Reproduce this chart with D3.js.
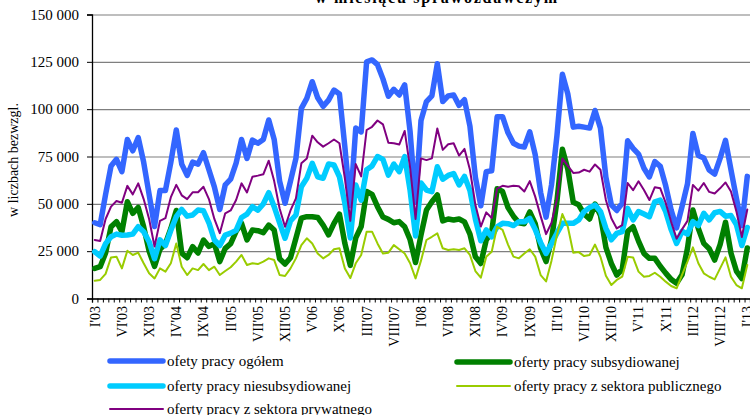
<!DOCTYPE html>
<html><head><meta charset="utf-8">
<script src="https://cdn.jsdelivr.net/npm/d3@7/dist/d3.min.js"></script>
<style>
html,body{margin:0;padding:0;background:#fff;overflow:hidden}
svg{display:block;font-family:"Liberation Serif","Times New Roman",serif}
</style></head><body>
<svg id="chart" width="750" height="415"></svg>
<script>
// ---------- data ----------
const romans = ["I","II","III","IV","V","VI","VII","VIII","IX","X","XI","XII"];
const years = ["03","04","05","06","07","08","09","10","11","12","13"];
const categories = [];
years.forEach(y => romans.forEach(r => categories.push(r + "'" + y)));
categories.length = 121; // I'03 ... I'13

const tickLabels = ["I'03","VI'03","XI'03","IV'04","IX'04","II'05","VII'05","XII'05","V'06","X'06",
  "III'07","VIII'07","I'08","VI'08","XI'08","IV'09","IX'09","II'10","VII'10","XII'10",
  "V'11","X'11","III'12","VIII'12","I'13"];

const yTicks = [0,25000,50000,75000,100000,125000,150000];

const ogolem = [40000,39000,55000,70000,73500,67000,84000,78000,85000,72000,55000,38000,
 57000,57000,72000,89000,71000,65000,72000,71000,77000,68000,59000,47000,
 60000,63000,71500,84000,74000,83700,82000,84000,94300,84000,62000,50300,
 62000,74000,100400,105700,114500,106000,101500,104800,110100,108000,80000,49000,
 90000,88000,125000,126000,123500,116000,106800,110500,107500,112800,88000,51000,
 94000,104000,107000,124000,104000,107000,107500,102000,105000,91000,64000,49000,
 67000,67500,96000,96000,87500,82000,80500,80000,88000,76000,56000,43000,
 60000,86000,118500,108000,90500,91000,90500,90000,99300,90000,64000,49500,
 46500,50300,83300,79300,76300,68800,64200,72300,69800,59500,46700,37300,
 48500,60500,87200,75500,74200,67800,65700,74000,83500,68000,53000,38500,
 64500];

const subsydiowane = [15900,16800,24000,37900,40600,35300,51100,45000,48100,37900,25000,17000,
 26000,29000,37000,46500,24000,21500,27400,24000,30900,27500,29000,19500,
 26500,29000,35500,39700,30900,36200,35800,34800,38800,36200,21000,18200,
 21500,31800,42400,43200,43200,42800,38800,33600,39700,44600,29100,17500,
 32000,38000,56500,55000,48500,43000,41800,40000,40600,37900,31000,19000,
 33500,46700,51100,54700,41000,42000,41500,42000,40500,34000,22000,18500,
 30900,35000,58000,56500,48000,43500,40000,39500,45700,39500,26500,19500,
 31000,51500,78800,68300,50800,49500,44600,42000,49900,44000,27000,18500,
 12400,15400,35500,37900,30300,23800,21200,21200,17000,13400,10100,8100,
 12500,26500,46700,37000,29100,26300,20300,28500,40300,24000,14500,10500,
 26700];

const niesubsydiowane = [24700,22400,29000,32600,34000,33400,33500,34000,37900,35300,30000,21000,
 31000,28000,36000,43200,47000,43500,44100,46700,46300,40000,30900,28000,
 33500,34500,36000,42800,44600,48500,46700,49900,55900,48500,40000,31800,
 41000,44100,59000,63500,71400,64300,63500,71000,70500,64300,50300,32000,
 60000,52000,68000,70000,75000,73500,65200,71000,67000,74900,57000,33000,
 61000,57300,56400,69600,63000,65000,66000,60000,64500,57000,42000,30500,
 36200,32600,37900,39700,39500,38500,40600,40500,42300,36500,29500,23800,
 29000,34500,39700,39700,39700,41500,45900,48000,49400,46000,37000,31000,
 34400,35300,47600,41500,45900,44600,43200,51100,52000,45900,36400,29100,
 35500,34000,40600,38500,45000,41500,45300,46000,43500,43800,39000,28000,
 37500];

const publiczne = [9400,9800,13000,21700,22100,15900,25200,23000,24200,18600,13300,10600,
 15900,14200,18600,29100,16800,12400,15900,15000,18200,15000,16800,12400,
 14500,16500,19500,23000,17700,18600,18200,19500,21200,20300,12400,11900,
 15900,21200,28200,31800,29100,23800,21200,23000,26000,26500,15900,10800,
 18600,23000,35300,35300,29100,23800,24200,28200,26000,23800,18600,10600,
 20000,30900,32600,34400,26500,25600,26000,25600,26500,23000,14500,11000,
 22100,24700,37900,36200,28500,22100,21200,23800,26000,22100,12400,9000,
 20000,33500,44600,37900,24200,24500,22400,23000,28500,22000,12000,7100,
 9800,11500,22100,21700,14200,11500,11900,13600,11500,8900,6600,5400,
 12500,19500,27000,18600,13300,11500,10100,15900,21700,11500,7100,5400,
 17700];

const prywatne = [30900,30400,42000,48500,51500,50600,59500,55000,60800,52500,42000,27500,
 41000,42400,53500,60000,54500,52500,56100,56100,59000,52500,42000,34500,
 45000,46500,52000,60800,56000,64300,64900,65600,72800,62000,47500,37900,
 46500,52900,71400,74000,86000,82500,80200,82000,84000,82000,63500,41000,
 71000,64500,89000,90700,94000,92000,82300,82000,81300,88500,69000,42000,
 74000,73100,74000,89800,78500,81500,82000,75500,79000,68000,49500,38000,
 45500,42500,58000,59500,59000,59500,59300,56500,62000,53800,43500,34000,
 40000,52500,74000,70000,66300,66500,68000,67000,70800,68000,52000,42400,
 37000,38800,61000,57200,61900,57300,52000,58800,58200,50500,40500,31600,
 36500,41000,60000,57000,61000,56300,55500,58200,61300,56500,46000,32500,
 47000];

const seriesNames = ["ofety pracy ogółem","oferty pracy subsydiowanej","oferty pracy niesubsydiowanej",
  "oferty pracy z sektora publicznego","oferty pracy z sektora prywatnego"];
const seriesValues = [ogolem, subsydiowane, niesubsydiowane, publiczne, prywatne];
const seriesColors = ["#3366FF","#008000","#00CCFF","#99CC00","#800080"];
const seriesWidths = [5.5,5.5,5.5,2,2];
const legendPos = [[110,361],[457,362],[110,386],[457,386],[110,409]];

const titleText = "w  miesiącu  sprawozdawczym";
const yTitle = "w liczbach bezwzgl.";

// ---------- drawing ----------
const svg = d3.select("#chart");
const L = 92, R = 750, T = 14.5, B = 298.5;

const x = d3.scaleBand().domain(d3.range(categories.length)).range([L, R]).paddingInner(0).paddingOuter(0);
const cx = i => x(i) + x.bandwidth() / 2;
const y = d3.scaleLinear().domain([0, 150000]).range([B, T]);

// title (clipped at top, as in the reference)
svg.append("text").attr("x", 436).attr("y", 3).attr("text-anchor", "middle")
  .attr("font-weight", "bold").attr("font-size", 16).attr("fill", "#000")
  .attr("textLength", 242).attr("lengthAdjust", "spacing").text(titleText);

// gridlines
svg.append("g").attr("transform", `translate(${L},0)`)
  .call(d3.axisLeft(y).tickValues(yTicks).tickSize(-(R - L)).tickFormat(""))
  .call(g => g.select(".domain").remove())
  .call(g => g.selectAll("line").attr("stroke", "#7f7f7f").attr("stroke-width", 1.2));

// y axis
const fmt = v => d3.format(",")(v).replace(/,/g, " ");
svg.append("g").attr("transform", `translate(${L},0)`)
  .call(d3.axisLeft(y).tickValues(yTicks).tickSize(5).tickPadding(8).tickFormat(fmt))
  .call(g => g.select(".domain").attr("stroke", "#000").attr("stroke-width", 1.3))
  .call(g => g.selectAll("line").attr("stroke", "#000"))
  .call(g => g.selectAll("text").attr("font-size", 15).attr("font-family", "Liberation Serif").attr("fill", "#000"));

svg.append("text").attr("transform", "translate(18,160) rotate(-90)")
  .attr("text-anchor", "middle").attr("font-size", 14).attr("fill", "#000").text(yTitle);

// x axis: minor ticks at category boundaries
const xb = d3.scaleLinear().domain([0, categories.length]).range([L, R]);
svg.append("g").attr("transform", `translate(0,${B})`)
  .call(d3.axisBottom(xb).tickValues(d3.range(0, categories.length + 1)).tickSize(4).tickFormat(""))
  .call(g => g.select(".domain").attr("stroke", "#000").attr("stroke-width", 1.3))
  .call(g => g.selectAll("line").attr("stroke", "#000"));

// x labels
const labelIdx = tickLabels.map(t => categories.indexOf(t));
svg.append("g").selectAll("text").data(labelIdx).join("text")
  .attr("transform", i => `translate(${cx(i)},306) rotate(-90)`)
  .attr("dy", "0.35em").attr("text-anchor", "end")
  .attr("font-size", 14).attr("fill", "#000").text(i => categories[i]);

// lines
const line = d3.line().x((d, i) => cx(i)).y(d => y(d));
seriesValues.forEach((vals, k) => {
  svg.append("path").datum(vals).attr("d", line)
    .attr("fill", "none").attr("stroke", seriesColors[k]).attr("stroke-width", seriesWidths[k])
    .attr("stroke-linejoin", "round").attr("stroke-linecap", "round");
});

// legend
seriesNames.forEach((name, k) => {
  const [lx, ly] = legendPos[k];
  const g = svg.append("g").attr("transform", `translate(${lx},${ly})`);
  g.append("line").attr("x1", 0).attr("x2", 53).attr("y1", 0).attr("y2", 0)
    .attr("stroke", seriesColors[k]).attr("stroke-width", seriesWidths[k]).attr("stroke-linecap", "round");
  g.append("text").attr("x", 57).attr("dy", "0.35em").attr("font-size", 15).attr("fill", "#000").text(name);
});
</script>
</body></html>
